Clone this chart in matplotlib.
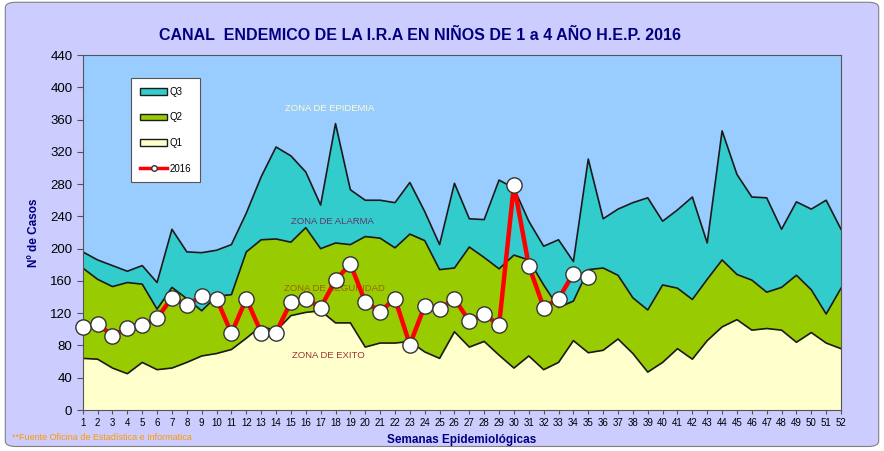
import matplotlib.pyplot as plt
import numpy as np
from matplotlib.patches import Patch, FancyBboxPatch
from matplotlib.lines import Line2D

plt.rcParams['font.family'] = ['Liberation Sans', 'DejaVu Sans']

# Data
weeks = list(range(1, 53))
q1 = [64, 63, 52, 45, 59, 50, 52, 59, 67, 70, 75, 89, 104, 98, 117, 121, 123, 108, 108, 78,
      83, 83, 85, 72, 64, 97, 78, 85, 68, 52, 67, 50, 59, 86, 71, 74, 88, 70, 47, 59,
      76, 63, 86, 103, 112, 99, 101, 99, 84, 96, 83, 76]
q2 = [176, 162, 153, 158, 156, 125, 152, 138, 123, 141, 143, 196, 211, 212, 208, 226, 200, 207, 205, 215,
      213, 201, 218, 210, 174, 176, 202, 189, 175, 192, 186, 155, 127, 135, 174, 176, 167, 139, 124, 155,
      151, 137, 162, 186, 168, 161, 146, 152, 167, 149, 119, 151]
q3 = [196, 186, 179, 172, 179, 158, 224, 196, 195, 198, 205, 244, 289, 326, 315, 295, 254, 355, 273, 260,
      260, 257, 282, 246, 205, 281, 237, 236, 285, 275, 234, 203, 211, 184, 311, 237, 249, 257, 263, 234,
      248, 264, 207, 346, 292, 264, 263, 224, 258, 249, 260, 224]
weeks_2016 = list(range(1, 36))
cases_2016 = [103, 107, 92, 102, 105, 114, 139, 130, 141, 138, 95, 138, 96, 96, 134, 138, 127, 161, 181, 134,
              122, 138, 81, 129, 125, 138, 110, 119, 105, 279, 179, 127, 138, 169, 165]

bg = '#CCCCFF'
navy = '#000080'

fig = plt.figure(figsize=(8.84, 4.51), dpi=100)
fig.patch.set_facecolor('white')
fig.patches.append(FancyBboxPatch((0.006, 0.01), 0.988, 0.985, boxstyle='round,pad=0,rounding_size=0.012',
                                  transform=fig.transFigure, facecolor=bg, edgecolor='#808080', lw=0.8, zorder=-1))

ax = fig.add_axes([0.0936, 0.0909, 0.8578, 0.7871])
ax.set_facecolor('#99CCFF')

ax.fill_between(weeks, 0, q3, color='#33CCCC', lw=0)
ax.fill_between(weeks, 0, q2, color='#99CC00', lw=0)
ax.fill_between(weeks, 0, q1, color='#FFFFCC', lw=0)
for s in (q3, q2, q1):
    ax.plot(weeks, s, color='#1a1a1a', lw=1.2)

ax.plot(weeks_2016, cases_2016, color='#FF0000', lw=3.2, marker='o', ms=11,
        mfc='white', mec='#333333', mew=1.0, zorder=5, clip_on=False)

ax.set_xlim(1, 52)
ax.set_ylim(0, 440)
ax.set_xticks(weeks)
ax.set_xticklabels([str(w) for w in weeks], fontsize=7)
ax.set_yticks(range(0, 441, 40))
ax.tick_params(axis='y', labelsize=9.5, length=4, color='#555555')
ax.tick_params(axis='x', length=3, color='#555555', pad=3)
for sp in ax.spines.values():
    sp.set_color('#555555')

ax.set_ylabel('Nº de Casos', fontsize=8.5, fontweight='bold', color=navy, labelpad=7)
ax.set_xlabel('Semanas Epidemiológicas', fontsize=8.5, fontweight='bold', color=navy, labelpad=4)

fig.text(0.475, 0.922, 'CANAL  ENDEMICO DE LA I.R.A EN NIÑOS DE 1 a 4 AÑO H.E.P. 2016',
         ha='center', va='center', fontsize=11.5, fontweight='bold', color=navy)
fig.text(0.014, 0.024, '**Fuente Oficina de Estadística e Informatica', fontsize=6.5, color='#FF9900')

ax.text(17.6, 374, 'ZONA DE EPIDEMIA', ha='center', va='center', fontsize=6.8, color='#FFFFCC')
ax.text(17.8, 234, 'ZONA DE ALARMA', ha='center', va='center', fontsize=6.8, color='#663366')
ax.text(17.9, 150, 'ZONA DE SEGURIDAD', ha='center', va='center', fontsize=6.8, color='#996600')
ax.text(17.5, 67, 'ZONA DE EXITO', ha='center', va='center', fontsize=6.8, color='#993333')

handles = [Patch(facecolor='#33CCCC', edgecolor='#1a1a1a'),
           Patch(facecolor='#99CC00', edgecolor='#1a1a1a'),
           Patch(facecolor='#FFFFCC', edgecolor='#1a1a1a'),
           Line2D([], [], color='#FF0000', lw=2.5, marker='o', ms=4, mfc='white', mec='#333333')]
leg = ax.legend(handles, ['Q3', 'Q2', 'Q1', '2016'], loc='upper left', bbox_to_anchor=(0.064, 0.935),
                borderaxespad=0, fontsize=7, labelspacing=1.6, handlelength=2.8, handletextpad=0.2,
                borderpad=0.9, fancybox=False, framealpha=1, edgecolor='#555555')
leg.get_frame().set_linewidth(0.8)

fig.savefig('out.png', dpi=100, facecolor=fig.get_facecolor())
